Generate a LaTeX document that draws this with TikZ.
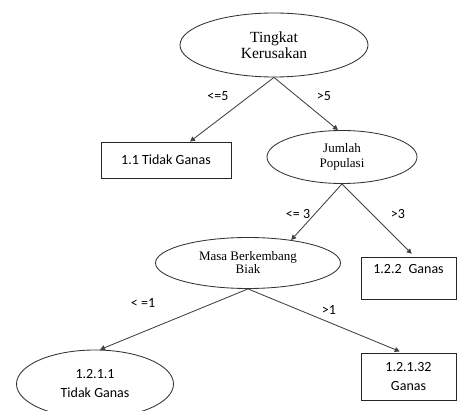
\documentclass[tikz,border=0pt]{standalone}
\usepackage{fontspec}
\setmainfont{Liberation Serif}
\newfontfamily\calibri{Carlito}
\usetikzlibrary{arrows.meta,shapes.geometric}

\begin{document}
\begin{tikzpicture}[x=1pt,y=-1pt,
  ask/.style={ellipse, draw=black!80, line width=0.85pt, inner sep=0pt, align=center},
  leaf/.style={rectangle, draw=black!85, line width=0.85pt, inner sep=0pt, align=center, font=\calibri\fontsize{14}{19}\selectfont},
  cond/.style={font=\calibri\fontsize{14}{16}\selectfont},
  edge/.style={-{Triangle[length=5pt,width=5pt]}, draw=black!75, line width=0.85pt}]
\useasboundingbox (0,0) rectangle (457,411);
% pertanyaan
\node[ask, minimum width=188pt, minimum height=64pt, font=\fontsize{15.5}{16}\selectfont] (tingkat) at (274,45) {Tingkat\\Kerusakan};
\node[ask, minimum width=150pt, minimum height=53pt, font=\fontsize{13}{15}\selectfont] (jumlah) at (342,157) {Jumlah\\Populasi};
\node[ask, minimum width=185pt, minimum height=51pt, font=\fontsize{13}{13}\selectfont] (masa) at (248,263) {Masa Berkembang\\Biak};
% hasil
\node[leaf, minimum width=130pt, minimum height=36pt] (tidak) at (166,160) {1.1 Tidak Ganas};
\node[leaf, minimum width=95pt, minimum height=42pt] (ganas122) at (408.5,278) {1.2.2\enspace Ganas\\~};
\node[ask, minimum width=157pt, minimum height=68pt, font=\calibri\fontsize{14}{19}\selectfont] (t1211) at (95,384) {1.2.1.1\\Tidak Ganas};
\node[leaf, minimum width=95pt, minimum height=47pt] (ganas12132) at (408.5,376.5) {1.2.1.32\\Ganas};
% cabang
\draw[edge] (tingkat.south) -- ([xshift=24pt]tidak.north);
\draw[edge] (tingkat.south) -- ([xshift=-4pt]jumlah.north);
\draw[edge] (jumlah.south) -- (masa.28);
\draw[edge, shorten >=4pt] (jumlah.south) -- ([xshift=6pt]ganas122.north);
\draw[edge] (masa.south) -- ([xshift=5pt]t1211.north);
\draw[edge, shorten >=3pt] (masa.south) -- ([xshift=-6pt]ganas12132.north);
% syarat
\node[cond] (le5) at (218,96) {<=5};
\node[cond] (gt5) at (324,96) {>5};
\node[cond] (le3) at (298,214) {<= 3};
\node[cond] (gt3) at (398,214) {>3};
\node[cond] (le1) at (143,303) {< =1};
\node[cond] (gt1) at (329,310) {>1};
\end{tikzpicture}
\end{document}
